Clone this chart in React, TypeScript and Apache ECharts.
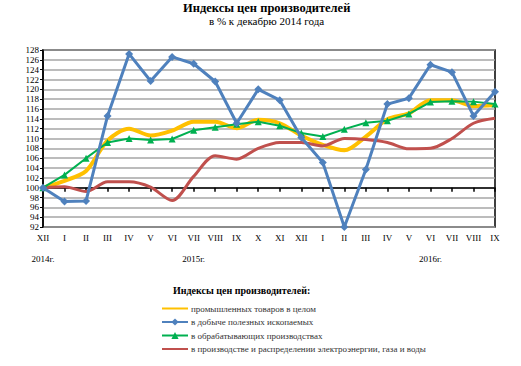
import React, { useEffect, useRef } from "react";
import * as echarts from "echarts";

const categories = ["XII", "I", "II", "III", "IV", "V", "VI", "VII", "VIII", "IX", "X", "XI", "XII", "I", "II", "III", "IV", "V", "VI", "VII", "VIII", "IX"];
const yearLabels = ["2014г.", "", "", "", "", "", "", "2015г.", "", "", "", "", "", "", "", "", "", "", "2016г.", "", "", ""];
const industrial = [100, 101.4, 103.4, 109.6, 112.0, 110.6, 111.6, 113.4, 113.4, 112.1, 113.8, 113.1, 110.6, 108.7, 107.6, 110.4, 113.9, 115.1, 117.8, 117.8, 116.6, 116.8];
const mining = [100, 97.2, 97.3, 114.6, 127.2, 121.7, 126.6, 125.2, 121.6, 113.1, 120.0, 117.8, 110.2, 105.1, 92.0, 103.7, 117.0, 118.2, 125.0, 123.5, 114.6, 119.5];
const manufacturing = [100, 102.6, 106.0, 109.2, 110.0, 109.7, 109.9, 111.7, 112.3, 112.9, 113.4, 112.6, 111.1, 110.4, 111.9, 113.2, 113.6, 115.0, 117.4, 117.6, 117.5, 117.0];
const electricity = [100, 100.2, 99.2, 101.2, 101.2, 100.1, 97.4, 102.3, 106.5, 105.8, 108.0, 109.2, 109.2, 108.5, 110.0, 109.8, 109.2, 107.9, 108.0, 110.0, 113.1, 114.1];

const seriesNames = [
  "промышленных товаров в целом",
  "в добыче полезных ископаемых",
  "в обрабатывающих производствах",
  "в производстве и распределении электроэнергии, газа и воды",
];
const yMin = 92;
const yMax = 128;
const yStep = 2;
const baseLine = 100;

const FONT = "'Liberation Serif', 'DejaVu Serif', serif";

export default function App() {
  const ref = useRef<HTMLDivElement>(null);
  useEffect(() => {
    if (!ref.current) return;
    const chart = echarts.init(ref.current, undefined, { renderer: "svg" });
    const gridTop = 50;
    const gridBottom = 139;
    const gridHeight = 366 - gridTop - gridBottom;
    const baseOffset = -((baseLine - yMin) / (yMax - yMin)) * gridHeight;
    chart.setOption({
      animation: false,
      backgroundColor: "#fff",
      title: [
        { text: "Индексы цен производителей", left: 183, top: 1, padding: 0, textStyle: { fontFamily: FONT, fontWeight: "bold", fontSize: 12.5, color: "#000" } },
        { text: "в % к декабрю 2014 года", left: 209, top: 15, padding: 0, textStyle: { fontFamily: FONT, fontWeight: "normal", fontSize: 11, color: "#000" } },
        { text: "Индексы цен производителей:", left: 173, top: 285, padding: 0, textStyle: { fontFamily: FONT, fontWeight: "bold", fontSize: 10, color: "#000" } },
      ],
      legend: {
        orient: "vertical",
        left: 156,
        top: 299,
        itemWidth: 26,
        itemHeight: 9,
        itemGap: 4.5,
        textStyle: { fontFamily: FONT, fontSize: 9, color: "#333", padding: [0, 0, 0, -2] },
        data: [
          { name: seriesNames[0], itemStyle: { opacity: 0 } },
          { name: seriesNames[1] },
          { name: seriesNames[2] },
          { name: seriesNames[3], itemStyle: { opacity: 0 } },
        ],
      },
      grid: {
        left: 43,
        right: 26,
        top: gridTop,
        bottom: gridBottom,
        show: true,
        borderColor: "#000",
        borderWidth: 1.5,
        backgroundColor: "transparent",
      },
      xAxis: [
        {
          type: "category",
          data: categories,
          boundaryGap: false,
          position: "bottom",
          axisLine: { show: false },
          axisTick: { show: false },
          axisLabel: { interval: 0, fontFamily: FONT, fontSize: 9, color: "#000", margin: 6 },
        },
        {
          type: "category",
          data: yearLabels,
          boundaryGap: false,
          position: "bottom",
          axisLine: { show: false },
          axisTick: { show: false },
          axisLabel: { interval: 0, fontFamily: FONT, fontSize: 9, color: "#000", margin: 27 },
        },
        {
          type: "category",
          data: categories,
          boundaryGap: false,
          position: "bottom",
          offset: baseOffset,
          axisLine: { show: true, lineStyle: { color: "#000", width: 1.5 } },
          axisTick: { show: true, interval: 0, length: 4, lineStyle: { color: "#000", width: 1.5 } },
          axisLabel: { show: false },
        },
      ],
      yAxis: {
        type: "value",
        min: yMin,
        max: yMax,
        interval: yStep,
        axisLine: { show: true, lineStyle: { color: "#000", width: 1.5 } },
        axisTick: { show: true, length: 3, lineStyle: { color: "#000" } },
        axisLabel: { fontFamily: FONT, fontSize: 9, color: "#000", margin: 4 },
        splitLine: { show: true, lineStyle: { color: "#A6A6A6", width: 1.5 } },
      },
      series: [
        {
          name: seriesNames[0],
          type: "line",
          data: industrial,
          smooth: 0.3,
          symbol: "none",
          z: 2,
          lineStyle: { color: "#FFC000", width: 4 },
          itemStyle: { color: "#FFC000" },
        },
        {
          name: seriesNames[1],
          type: "line",
          data: mining,
          symbol: "diamond",
          symbolSize: 8,
          z: 5,
          lineStyle: { color: "#4F81BD", width: 3 },
          itemStyle: { color: "#4F81BD" },
        },
        {
          name: seriesNames[2],
          type: "line",
          data: manufacturing,
          symbol: "triangle",
          symbolSize: 7,
          z: 4,
          lineStyle: { color: "#00B050", width: 2 },
          itemStyle: { color: "#00B050" },
        },
        {
          name: seriesNames[3],
          type: "line",
          data: electricity,
          smooth: 0.3,
          symbol: "none",
          z: 3,
          lineStyle: { color: "#C0504D", width: 3 },
          itemStyle: { color: "#C0504D" },
        },
      ],
    });
    return () => chart.dispose();
  }, []);
  return <div ref={ref} style={{ position: "absolute", left: 0, top: 0, width: 521, height: 366 }} />;
}
